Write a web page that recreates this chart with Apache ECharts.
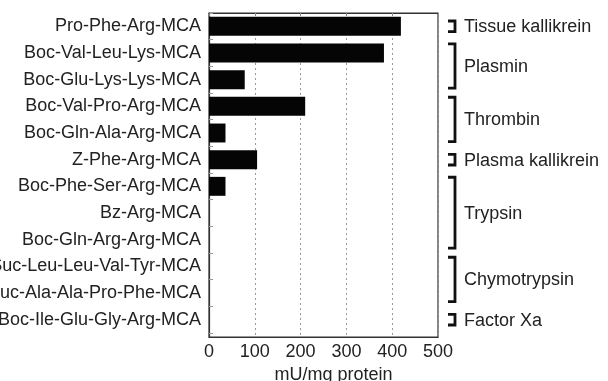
<!DOCTYPE html>
<html>
<head>
<meta charset="utf-8">
<script src="https://cdn.jsdelivr.net/npm/echarts@6/dist/echarts.min.js"></script>
<style>
html,body{margin:0;padding:0;background:#fff;}
#chart{width:608px;height:381px;}
</style>
</head>
<body>
<div id="chart"></div>
<script>
// ---- data ----
const categories = [
  'Pro-Phe-Arg-MCA',
  'Boc-Val-Leu-Lys-MCA',
  'Boc-Glu-Lys-Lys-MCA',
  'Boc-Val-Pro-Arg-MCA',
  'Boc-Gln-Ala-Arg-MCA',
  'Z-Phe-Arg-MCA',
  'Boc-Phe-Ser-Arg-MCA',
  'Bz-Arg-MCA',
  'Boc-Gln-Arg-Arg-MCA',
  'Suc-Leu-Leu-Val-Tyr-MCA',
  'Suc-Ala-Ala-Pro-Phe-MCA',
  'Boc-Ile-Glu-Gly-Arg-MCA'
];
const activity = [419, 382, 78, 210, 36, 105, 36, 0, 0, 0, 0, 0];
const xTicks = [0, 100, 200, 300, 400, 500];
const groupNames = ['Tissue kallikrein', 'Plasmin', 'Thrombin', 'Plasma kallikrein', 'Trypsin', 'Chymotrypsin', 'Factor Xa'];
const groupStart = [0, 1, 3, 5, 6, 9, 11];
const groupEnd   = [0, 2, 4, 5, 8, 10, 11];
const xName = 'mU/mg protein';

// ---- chart ----
const chart = echarts.init(document.getElementById('chart'));
const FONT = '"Liberation Sans", Arial, Helvetica, sans-serif';
const xMin = xTicks[0], xMax = xTicks[xTicks.length - 1], xStep = xTicks[1] - xTicks[0];

const bracketData = groupStart.map((s, i) => [s, groupEnd[i]]);

const option = {
  animation: false,
  backgroundColor: '#fff',
  textStyle: { fontFamily: FONT },
  grid: [
    { left: 209, right: 170, top: 13, bottom: 44, show: true, borderColor: '#333', borderWidth: 1.2,
      backgroundColor: 'transparent', outerBoundsMode: 'none', containLabel: false },
    { left: 209, right: 170, top: 13, bottom: 48, outerBoundsMode: 'none', containLabel: false }
  ],
  xAxis: [
    {
      gridIndex: 0, type: 'value', min: xMin, max: xMax, interval: xStep, position: 'bottom',
      axisLine: { show: true, lineStyle: { color: '#333', width: 1.2 } },
      axisTick: { show: false },
      axisLabel: { fontSize: 18, color: '#222', margin: 6, fontFamily: FONT },
      splitLine: { show: true, lineStyle: { type: [2, 3], color: '#999', width: 1 } },
      name: xName, nameLocation: 'middle', nameGap: 27,
      nameTextStyle: { fontSize: 18, color: '#222', fontFamily: FONT, padding: [0, 0, 0, 20] }
    },
    {
      gridIndex: 1, type: 'value', min: xMin, max: xMax, show: false
    },
    {
      gridIndex: 0, type: 'value', min: xMin, max: xMax, interval: xStep, position: 'top',
      axisLine: { show: true, lineStyle: { color: '#333', width: 1.2 } },
      axisTick: { show: true, inside: true, length: 3, lineStyle: { color: '#888' } },
      axisLabel: { show: false },
      splitLine: { show: false }
    }
  ],
  yAxis: [
    {
      gridIndex: 0, type: 'value', show: true,
      axisLine: { show: true, lineStyle: { color: '#333', width: 1.2 } },
      axisTick: { show: false }, axisLabel: { show: false }, splitLine: { show: false }
    },
    {
      gridIndex: 1, type: 'category', inverse: true, data: categories,
      axisLine: { show: false },
      axisTick: { show: true, inside: true, length: 4, lineStyle: { color: '#999' } },
      axisLabel: { fontSize: 18, color: '#222', margin: 8, fontFamily: FONT, padding: [4, 0, 0, 0] },
      splitLine: { show: false }
    }
  ],
  series: [
    {
      type: 'bar', xAxisIndex: 1, yAxisIndex: 1,
      data: activity, barCategoryGap: '29%',
      itemStyle: { color: '#050505' }
    },
    {
      type: 'custom', xAxisIndex: 1, yAxisIndex: 1, clip: false,
      data: bracketData,
      encode: { y: [0, 1] },
      renderItem: function (params, api) {
        const s = api.value(0), e = api.value(1);
        const band = api.size([0, 1])[1];
        const right = api.coord([xMax, s])[0];
        const ys = api.coord([xMax, s])[1];
        const ye = api.coord([xMax, e])[1];
        let top, bot;
        if (s === e) { top = ys - 0.2 * band; bot = ys + 0.2 * band; }
        else { top = ys - 0.34 * band; bot = ye + 0.32 * band; }
        const xv = right + 17, xt = right + 10;
        return {
          type: 'group',
          children: [
            { type: 'polyline', shape: { points: [[xt, top], [xv, top], [xv, bot], [xt, bot]] },
              style: { stroke: '#111', lineWidth: 2.8, fill: null } },
            { type: 'text', x: right + 26, y: (top + bot) / 2 + 1,
              style: { text: groupNames[params.dataIndex], fontSize: 18, fill: '#222', fontFamily: FONT,
                       verticalAlign: 'middle', align: 'left' } }
          ]
        };
      }
    }
  ]
};
chart.setOption(option);
</script>
</body>
</html>
